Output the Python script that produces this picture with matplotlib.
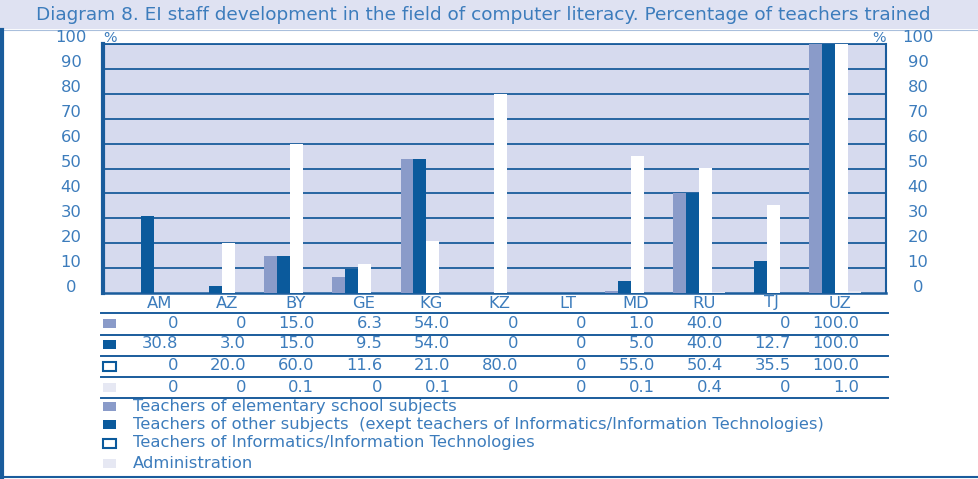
import matplotlib
matplotlib.use("Agg")
import matplotlib.pyplot as plt
from matplotlib.patches import Rectangle
from matplotlib.lines import Line2D
import matplotlib.transforms as mtransforms

# ---------------- data ----------------
categories = ["AM", "AZ", "BY", "GE", "KG", "KZ", "LT", "MD", "RU", "TJ", "UZ"]
elementary = [0, 0, 15.0, 6.3, 54.0, 0, 0, 1.0, 40.0, 0, 100.0]
other_subj = [30.8, 3.0, 15.0, 9.5, 54.0, 0, 0, 5.0, 40.0, 12.7, 100.0]
informatics = [0, 20.0, 60.0, 11.6, 21.0, 80.0, 0, 55.0, 50.4, 35.5, 100.0]
administration = [0, 0, 0.1, 0, 0.1, 0, 0, 0.1, 0.4, 0, 1.0]
series_labels = [
    "Teachers of elementary school subjects",
    "Teachers of other subjects  (exept teachers of Informatics/Information Technologies)",
    "Teachers of Informatics/Information Technologies",
    "Administration",
]
yticks = list(range(0, 101, 10))
title = "Diagram 8. EI staff development in the field of computer literacy. Percentage of teachers trained"

# ---------------- style ----------------
W, H = 979, 479
C_LIGHT = "#8a9bc9"
C_DARK = "#0b5a9c"
C_WHITE = "#ffffff"
C_ADMIN = "#e6e8f3"
C_BG = "#d6daee"
C_LINE = "#1a5c9c"
C_TEXT = "#3c7cbc"
C_TITLEBG = "#dfe2f2"
FS = 11.8

plt.rcParams["font.family"] = ["DejaVu Sans"]

fig = plt.figure(figsize=(W / 100, H / 100), dpi=100)


def fx(px):
    return px / W


def fy(py):
    return 1 - py / H


# title bar
fig.patches.append(Rectangle((0, fy(29)), 1, 29 / H, transform=fig.transFigure,
                             facecolor=C_TITLEBG, edgecolor="none", zorder=0))
fig.text(fx(483), fy(15), title, ha="center", va="center", fontsize=13.3, color=C_TEXT)
fig.lines.append(Line2D([0, 1], [fy(30), fy(30)], transform=fig.transFigure, color="#a9bfdc", lw=0.8))
# frame lines
fig.lines.append(Line2D([fx(2), fx(2)], [fy(30), 0], transform=fig.transFigure, color=C_LINE, lw=3))
fig.lines.append(Line2D([0, 1], [fy(477), fy(477)], transform=fig.transFigure, color=C_LINE, lw=1.5))

# main axes
L, R, T, B = 103, 886, 44, 293
ax = fig.add_axes([fx(L), fy(B), fx(R - L), (B - T) / H])
ax.set_facecolor(C_BG)
n = len(categories)
ax.set_xlim(-0.75, n - 0.25)
ax.set_ylim(0, 100)
w = 0.19
series = [elementary, other_subj, informatics, administration]
colors = [C_LIGHT, C_DARK, C_WHITE, C_ADMIN]
offs = [-1.5, -0.5, 0.5, 1.5]
x = list(range(n))
for s, c, o in zip(series, colors, offs):
    ax.bar([xi + o * w for xi in x], s, width=w, color=c, edgecolor="none", zorder=3)
for yv in yticks[1:]:
    ax.axhline(yv, color=C_LINE, lw=1.3, zorder=1)
ax.set_xticks([])
ax.set_yticks([])
for sp in ax.spines.values():
    sp.set_color(C_LINE)
ax.spines["left"].set_linewidth(3)
ax.spines["right"].set_linewidth(1.5)
ax.spines["bottom"].set_linewidth(1.8)
ax.spines["top"].set_linewidth(1.3)

# y labels on both sides (drawn slightly above each gridline)
up = mtransforms.ScaledTranslation(0, 6 / 100, fig.dpi_scale_trans)
for yv in yticks:
    yf = fy(B) + yv / 100 * (B - T) / H
    fig.text(fx(71), yf, str(yv), ha="center", va="center", fontsize=FS, color=C_TEXT,
             transform=fig.transFigure + up)
    fig.text(fx(918), yf, str(yv), ha="center", va="center", fontsize=FS, color=C_TEXT,
             transform=fig.transFigure + up)
fig.text(fx(110), fy(38), "%", ha="center", va="center", fontsize=FS - 1.5, color=C_TEXT)
fig.text(fx(879), fy(38), "%", ha="center", va="center", fontsize=FS - 1.5, color=C_TEXT)

# table below
def xpix(i):
    return L + (i + 0.75) / (n + 0.5) * (R - L)


for i, cat in enumerate(categories):
    fig.text(fx(xpix(i) + 5), fy(303), cat, ha="center", va="center", fontsize=FS, color=C_TEXT)

row_y = [323, 344, 366, 387]
line_y = [313, 335, 356, 377, 398]
for ly in line_y:
    fig.lines.append(Line2D([fx(101), fx(888)], [fy(ly), fy(ly)], transform=fig.transFigure,
                            color=C_LINE, lw=1.4))


def fmt(v):
    return "0" if v == 0 else f"{v:.1f}"


def marker(px, py, color):
    ec = C_DARK if color == C_WHITE else "none"
    fig.patches.append(Rectangle((fx(px), fy(py + 4.5)), fx(13), 9 / H, transform=fig.transFigure,
                                 facecolor=color, edgecolor=ec, lw=1.5, zorder=2))


for s, c, ry in zip(series, colors, row_y):
    marker(103, ry, c)
    for i, v in enumerate(s):
        fig.text(fx(xpix(i) + 24), fy(ry), fmt(v), ha="right", va="center", fontsize=FS, color=C_TEXT)

# legend
leg_y = [406, 424, 443, 463]
for lab, c, ly in zip(series_labels, colors, leg_y):
    marker(103, ly, c)
    fig.text(fx(133), fy(ly), lab, ha="left", va="center", fontsize=FS, color=C_TEXT)

fig.savefig("out.png", dpi=100)
